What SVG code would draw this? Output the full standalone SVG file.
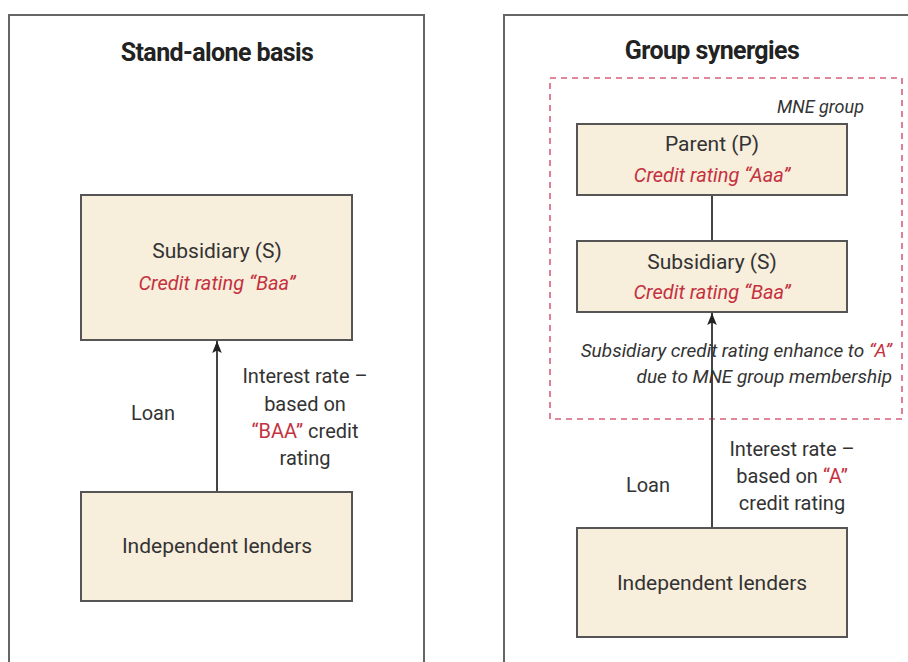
<svg xmlns="http://www.w3.org/2000/svg" width="908" height="662" viewBox="0 0 908 662">
<style>
.panel{fill:#fff;stroke:#666;stroke-width:2}
.node{fill:#f8eedc;stroke:#555;stroke-width:2}
.t{font-family:Roboto,"Liberation Sans",sans-serif;font-size:20px;fill:#333;text-anchor:middle}
.title{font-family:Roboto,"Liberation Sans",sans-serif;font-size:25px;font-weight:bold;fill:#222;text-anchor:middle;letter-spacing:-0.6px}
.red{fill:#c4323f}
.it{font-style:italic}
.conn{stroke:#444;stroke-width:2;fill:none}
.grp{fill:none;stroke:#d9607a;stroke-width:1.6;stroke-dasharray:6 5}
</style>
<defs>
<marker id="ah2" viewBox="0 0 10 10" refX="10" refY="5" markerWidth="12" markerHeight="12" orient="auto" markerUnits="userSpaceOnUse">
<path d="M0,1 L10,5 L0,9 L2,5 z" fill="#222"/>
</marker>
</defs>
<rect width="908" height="662" fill="#fff"/>
<g id="panel-left">
<rect class="panel" x="9" y="15" width="415" height="660"/>
<text class="title" x="217" y="61">Stand-alone basis</text>
</g>
<g id="panel-right">
<rect class="panel" x="504" y="15" width="420" height="660"/>
<text class="title" x="712" y="59">Group synergies</text>
</g>
<g id="mne-group">
<rect class="grp" x="550" y="78" width="352" height="341"/>
<text class="t it" x="864" y="113" style="text-anchor:end;font-size:18px">MNE group</text>
</g>
<g id="connectors">
<line class="conn" x1="217" y1="492" x2="217" y2="341" marker-end="url(#ah2)"/>
<line class="conn" x1="712" y1="195" x2="712" y2="241"/>
<line class="conn" x1="712" y1="528" x2="712" y2="313" marker-end="url(#ah2)"/>
</g>
<g id="subsidiary-left">
<rect class="node" x="81" y="195" width="271" height="145"/>
<text class="t" x="217" y="258" style="font-size:21px">Subsidiary (S)</text>
<text class="t it red" x="217" y="290">Credit rating “Baa”</text>
</g>
<g id="lenders-left">
<rect class="node" x="81" y="492" width="271" height="109"/>
<text class="t" x="217" y="553" style="font-size:21px">Independent lenders</text>
</g>
<g id="labels-left">
<text class="t" x="153" y="420">Loan</text>
<text class="t" x="305" y="383">Interest rate –</text>
<text class="t" x="305" y="411">based on</text>
<text class="t" x="305" y="438"><tspan class="red">“BAA”</tspan> credit</text>
<text class="t" x="305" y="465">rating</text>
</g>
<g id="parent-right">
<rect class="node" x="577" y="124" width="270" height="71"/>
<text class="t" x="712" y="151" style="font-size:21px">Parent (P)</text>
<text class="t it red" x="712" y="182">Credit rating “Aaa”</text>
</g>
<g id="subsidiary-right">
<rect class="node" x="577" y="241" width="270" height="71"/>
<text class="t" x="712" y="269" style="font-size:21px">Subsidiary (S)</text>
<text class="t it red" x="712" y="299">Credit rating “Baa”</text>
</g>
<g id="enhance-label">
<text class="t it" x="892" y="357" style="text-anchor:end;font-size:19px">Subsidiary credit rating enhance to <tspan class="red">“A”</tspan></text>
<text class="t it" x="892" y="383" style="text-anchor:end;font-size:19px">due to MNE group membership</text>
</g>
<g id="lenders-right">
<rect class="node" x="577" y="528" width="270" height="109"/>
<text class="t" x="712" y="590" style="font-size:21px">Independent lenders</text>
</g>
<g id="labels-right">
<text class="t" x="648" y="492">Loan</text>
<text class="t" x="792" y="456">Interest rate –</text>
<text class="t" x="792" y="483">based on <tspan class="red">“A”</tspan></text>
<text class="t" x="792" y="510">credit rating</text>
</g>
</svg>
